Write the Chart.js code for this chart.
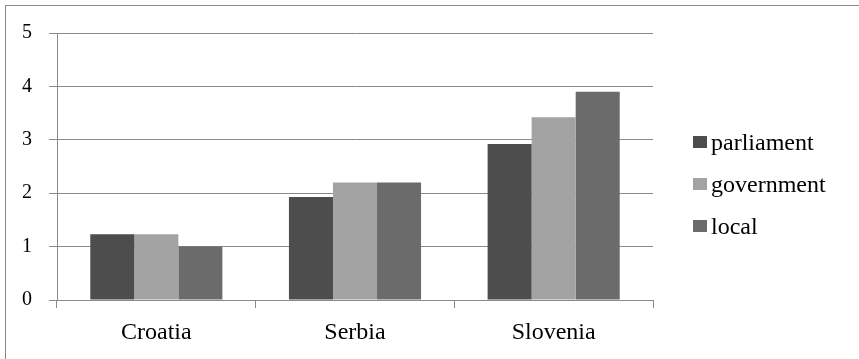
<!DOCTYPE html>
<html>
<head>
  <meta charset="utf-8">
  <script src="https://cdn.jsdelivr.net/npm/chart.js"></script>
  <style>
    html, body { margin: 0; padding: 0; background: #fff; }
    .marco { position: absolute; left: 5px; top: 5px; width: 853px; height: 353px; border-left: 1px solid #8a8a8a; border-top: 1px solid #8a8a8a; }
    canvas { position: absolute; left: 0; top: 0; }
    .legend { position: absolute; left: 693px; top: 121px; font-family: "Liberation Serif", serif; font-size: 24px; color: #000; }
    .legend div { height: 42px; line-height: 42px; white-space: nowrap; }
    .legend span { display: inline-block; width: 14px; height: 12px; margin-right: 4px; vertical-align: middle; position: relative; top: -2px; }
  </style>
</head>
<body>
  <div class="marco"></div>
  <canvas id="grafico" width="700" height="359"></canvas>
  <div class="legend" id="leyenda"></div>

  <script>
    // categorías y series
    const paises = ['Croatia', 'Serbia', 'Slovenia'];
    const parliament = [1.23, 1.93, 2.92];
    const government = [1.23, 2.2, 3.42];
    const localVals = [1.0, 2.2, 3.9];
    const yTicks = [0, 1, 2, 3, 4, 5];

    const series = [
      { label: 'parliament', data: parliament, color: '#4d4d4d' },
      { label: 'government', data: government, color: '#a3a3a3' },
      { label: 'local', data: localVals, color: '#6b6b6b' }
    ];

    const gris = '#8a8a8a';
    const familia = '"Liberation Serif", serif';

    new Chart(document.getElementById('grafico').getContext('2d'), {
      type: 'bar',
      data: {
        labels: paises,
        datasets: series.map(s => ({
          label: s.label,
          data: s.data,
          backgroundColor: s.color,
          borderWidth: 0,
          categoryPercentage: 0.665,
          barPercentage: 1.0
        }))
      },
      options: {
        responsive: false,
        animation: false,
        layout: { padding: { top: 33, right: 47, left: 0, bottom: 0 } },
        plugins: {
          legend: { display: false },
          tooltip: { enabled: false }
        },
        scales: {
          y: {
            min: 0,
            max: 5,
            afterFit: (s) => { s.width = 57; },
            afterBuildTicks: (s) => { s.ticks = yTicks.map(v => ({ value: v })); },
            border: { color: gris, width: 1 },
            grid: { color: gris, lineWidth: 1, tickLength: 8 },
            ticks: { color: '#000', padding: 17, font: { family: familia, size: 20 } }
          },
          x: {
            afterFit: (s) => { s.height = 59; },
            border: { color: gris, width: 1 },
            grid: { color: gris, lineWidth: 1, drawOnChartArea: false, tickLength: 8, offset: true },
            ticks: { color: '#000', padding: 10, font: { family: familia, size: 24 } }
          }
        }
      }
    });

    // leyenda en HTML a la derecha
    const leyenda = document.getElementById('leyenda');
    leyenda.innerHTML = series.map(s =>
      '<div><span style="background:' + s.color + '"></span>' + s.label + '</div>'
    ).join('');
  </script>
</body>
</html>
